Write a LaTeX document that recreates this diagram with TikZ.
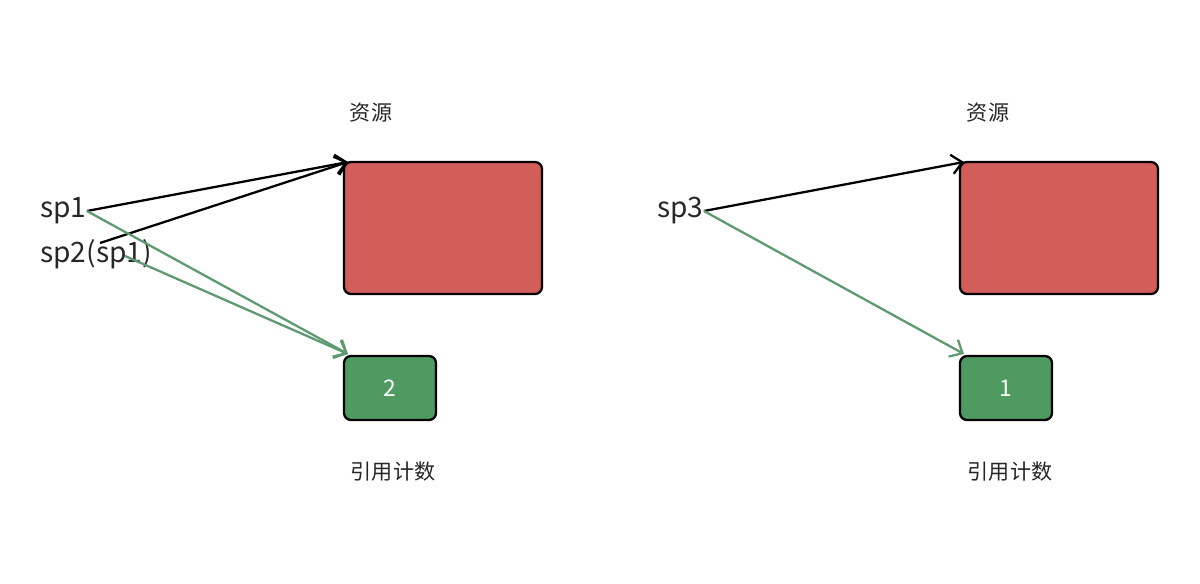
\documentclass[tikz,border=0pt]{standalone}
\usepackage{fontspec}
\setmainfont{Noto Sans CJK SC}
\usetikzlibrary{arrows.meta}
\definecolor{resred}{RGB}{210, 94, 90}
\definecolor{cntgreen}{RGB}{78, 154, 96}
\definecolor{refgreen}{RGB}{94, 154, 112}
\tikzset{
  resBox/.style={draw=black, line width=1.3pt, fill=resred, rounded corners=4pt},
  cntBox/.style={draw=black, line width=1.3pt, fill=cntgreen, rounded corners=4pt,
    text=white, font=\fontsize{13}{13}\selectfont},
  capText/.style={font=\fontsize{12}{12}\selectfont, text=black!85},
  ptrText/.style={font=\fontsize{16}{16}\selectfont, text=black!85, inner sep=0pt},
  strongArrow/.style={line width=1.3pt, draw=black, -{Straight Barb[length=6pt,width=11pt]}},
  weakArrow/.style={line width=1.3pt, draw=refgreen, -{Straight Barb[length=6pt,width=11pt]}}
}
\begin{document}
\begin{tikzpicture}[x=0.02cm, y=-0.02cm]
  \useasboundingbox (0,0) rectangle (1200,583);

  % left half
  \draw[resBox] (344,162) rectangle (542,294);
  \node (CNT1) [cntBox, minimum width=1.84cm, minimum height=1.28cm] at (390,388) {2};
  \node (CAP1) [capText] at (371,113) {资源};
  \node (CAP2) [capText] at (393,472) {引用计数};
  \node (SP1) [ptrText, anchor=west] at (40,211) {sp1};
  \node (SP2) [ptrText, anchor=west] at (40,254) {sp2(sp1)};
  \coordinate (SP2out) at (100,243);
  \coordinate (SP2low) at (125,256);
  \coordinate (RES1in) at (348,162);
  \coordinate (CNT1in) at (348,354);

  \draw [strongArrow] (SP1.east) -- (RES1in);
  \draw [strongArrow] (SP2out) -- (RES1in);
  \draw [weakArrow] (SP1.east) -- (CNT1in);
  \draw [weakArrow] (SP2low) -- (CNT1in);

  % right half
  \draw[resBox] (960,162) rectangle (1158,294);
  \node (CNT2) [cntBox, minimum width=1.84cm, minimum height=1.28cm] at (1006,388) {1};
  \node (CAP3) [capText] at (988,113) {资源};
  \node (CAP4) [capText] at (1010,472) {引用计数};
  \node (SP3) [ptrText, anchor=west] at (657,211) {sp3};
  \coordinate (RES2in) at (964,162);
  \coordinate (CNT2in) at (964,354);

  \draw [strongArrow] (SP3.east) -- (RES2in);
  \draw [weakArrow] (SP3.east) -- (CNT2in);
\end{tikzpicture}
\end{document}
